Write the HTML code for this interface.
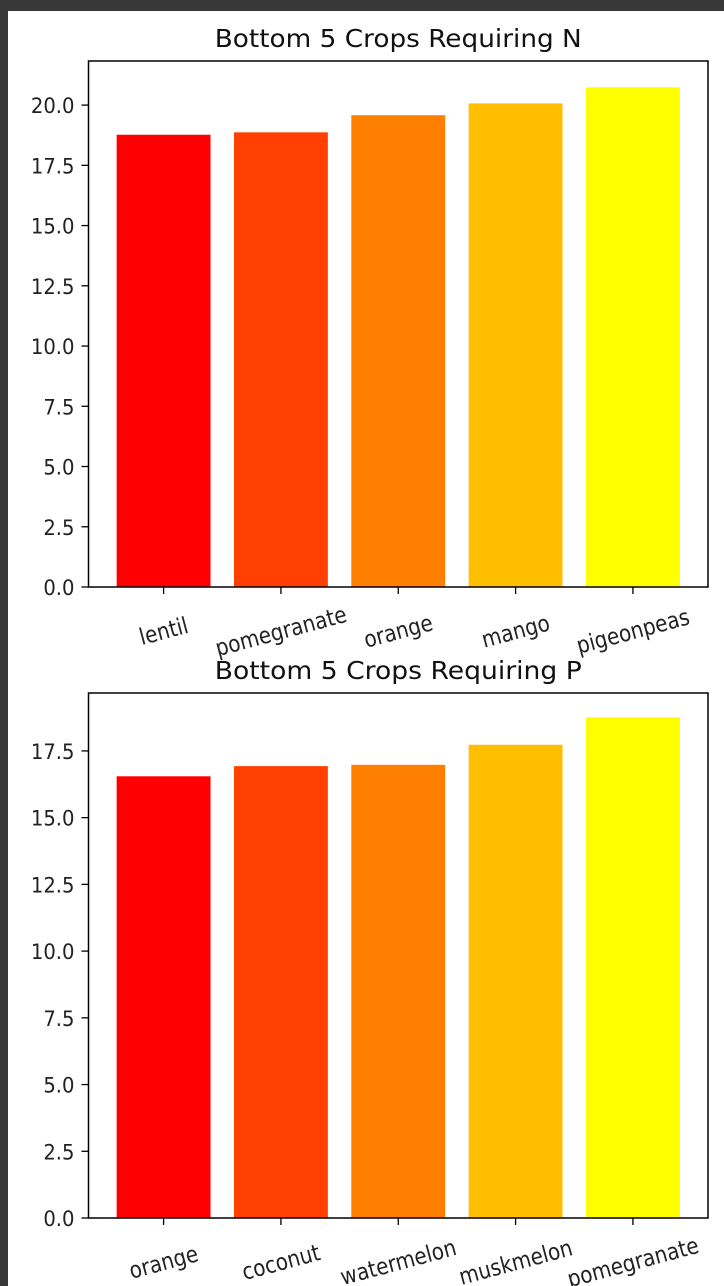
<!DOCTYPE html>
<html><head><meta charset="utf-8"><style>
html,body{margin:0;padding:0;background:#383838;}
#frame{position:absolute;left:8px;top:11px;width:716px;height:1275px;background:#fff;}
svg{position:absolute;left:0;top:0;font-family:"DejaVu Sans","Liberation Sans",sans-serif;}
</style></head><body>
<div id="frame"></div>
<svg id="chart" width="724" height="1286"></svg>
<script>
const cropsN = ["lentil","pomegranate","orange","mango","pigeonpeas"];
const valuesN = [18.77,18.87,19.58,20.07,20.74];
const ticksN = [0,2.5,5,7.5,10,12.5,15,17.5,20];
const cropsP = ["orange","coconut","watermelon","muskmelon","pomegranate"];
const valuesP = [16.55,16.93,16.98,17.73,18.76];
const ticksP = [0,2.5,5,7.5,10,12.5,15,17.5];
const colors = ["#ff0000","#ff4000","#ff8000","#ffbf00","#ffff00"];
const NS="http://www.w3.org/2000/svg";
const svg=document.getElementById('chart');
function mk(tag,attrs,parent){const e=document.createElementNS(NS,tag);for(const k in attrs)e.setAttribute(k,attrs[k]);(parent||svg).appendChild(e);return e;}
function panel(title,cats,vals,ticks,top,bottom,ymax,prefix){
  const L=88.5,R=708;
  const g=mk('g',{});
  
  
  const x=i=>L+(i+0.64)*(R-L)/5.28;
  const y=v=>bottom-v*(bottom-top)/ymax;
  const bw=0.8*(R-L)/5.28;
  vals.forEach((v,i)=>{
    const r=mk('rect',{x:x(i)-bw/2,y:y(v),width:bw,height:bottom-y(v),fill:colors[i]},g);
    
    
  });
  const frame=mk('rect',{x:L,y:top,width:R-L,height:bottom-top,fill:'none',stroke:'#000','stroke-width':1.5},g);
  
  
  ticks.forEach(t=>{
    mk('line',{x1:L-7,x2:L,y1:y(t),y2:y(t),stroke:'#000','stroke-width':1.3},g);
    const tx=mk('text',{x:L-14,y:y(t)+7.5,'text-anchor':'end','font-size':20,fill:'#222',transform:`translate(${L-14},${y(t)}) scale(0.98,1.08) translate(${-(L-14)},${-y(t)})`},g);
    tx.textContent=t.toFixed(1);
    
    
  });
  cats.forEach((c,i)=>{
    mk('line',{x1:x(i),x2:x(i),y1:bottom,y2:bottom+7,stroke:'#000','stroke-width':1.3},g);
    const tx=mk('text',{x:0,y:7,'text-anchor':'middle','font-size':20,fill:'#222',transform:`translate(${x(i)},${bottom+44}) rotate(-15) scale(1,1.15)`},g);
    tx.textContent=c;
    
    
  });
  const tt=mk('text',{x:(L+R)/2,y:top-14,'text-anchor':'middle','font-size':25,fill:'#111',textLength:367,lengthAdjust:'spacingAndGlyphs'},g);
  tt.textContent=title;
  
  
}
panel("Bottom 5 Crops Requiring N",cropsN,valuesN,ticksN,61,587,21.83,'n-chart');
panel("Bottom 5 Crops Requiring P",cropsP,valuesP,ticksP,693,1218,19.67,'p-chart');
</script>
</body></html>
